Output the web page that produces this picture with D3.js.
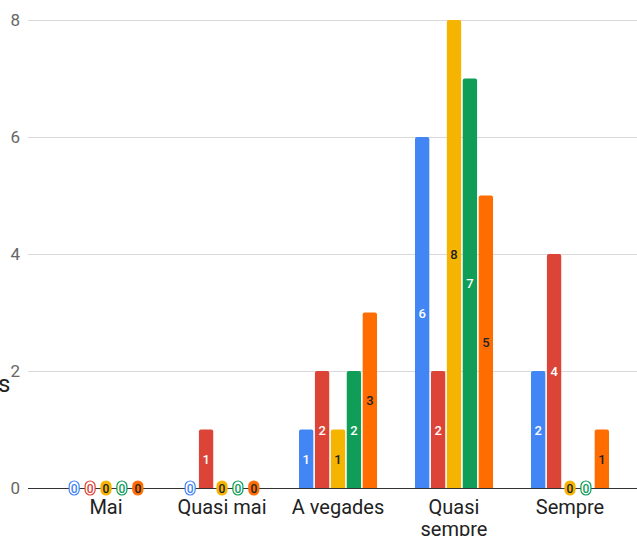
<!DOCTYPE html>
<html>
<head>
<meta charset="utf-8">
<script src="https://cdn.jsdelivr.net/npm/d3@7"></script>
<style>
  body { margin: 0; background: #fff; overflow: hidden; }
  svg { display: block; font-family: Roboto, "Noto Sans", sans-serif; }
</style>
</head>
<body>
<div id="chart"></div>
<script>
var categories = ["Mai", "Quasi mai", "A vegades", "Quasi sempre", "Sempre"];
var seriesNames = ["s1", "s2", "s3", "s4", "s5"];
var blueVals = [0, 0, 1, 6, 2];
var redVals = [0, 1, 2, 2, 4];
var yellowVals = [0, 0, 1, 8, 0];
var greenVals = [0, 0, 2, 7, 0];
var orangeVals = [0, 0, 3, 5, 1];
var yTicks = [0, 2, 4, 6, 8];

var colours = ["#4285f4", "#db4437", "#f4b400", "#0f9d58", "#ff6d01"];
var labelColours = ["#fff", "#fff", "#222", "#fff", "#222"];
var allVals = [blueVals, redVals, yellowVals, greenVals, orangeVals];

var svgWidth = 637, svgHeight = 536;

var svg = d3.select('#chart').append('svg')
  .attr('width', svgWidth)
  .attr('height', svgHeight);

var y = d3.scaleLinear().domain([0, 8]).range([488, 20]);

var x = d3.scaleBand().domain(categories).range([48, 628]);
var inner = d3.scaleBand().domain(seriesNames)
  .range([0, 78]).paddingInner(0.1);

// gridlines
svg.append('g').selectAll('line').data(yTicks.filter(function (d) { return d > 0; }))
  .enter().append('line')
    .attr('x1', 28).attr('x2', svgWidth)
    .attr('y1', function (d) { return y(d) + 0.5; })
    .attr('y2', function (d) { return y(d) + 0.5; })
    .attr('stroke', '#d9d9d9').attr('stroke-width', 1);

// y tick labels
svg.append('g').selectAll('text').data(yTicks)
  .enter().append('text')
    .attr('x', 20).attr('y', function (d) { return y(d) + 6; })
    .attr('text-anchor', 'end')
    .attr('font-size', 17).attr('fill', '#666')
    .text(function (d) { return d; });

// cut-off axis title
svg.append('text').attr('x', -2).attr('y', 392)
  .attr('font-size', 24).attr('fill', '#222').text('s');

// baseline
svg.append('line').attr('x1', 28).attr('x2', svgWidth)
  .attr('y1', y(0) + 0.5).attr('y2', y(0) + 0.5)
  .attr('stroke', '#333').attr('stroke-width', 1);

var rows = [];
allVals.forEach(function (vals, s) {
  vals.forEach(function (v, c) {
    rows.push({ s: s, cat: categories[c], v: v });
  });
});

function bx(d) {
  var groupStart = x(d.cat) + (x.bandwidth() - 78) / 2;
  return groupStart + inner(seriesNames[d.s]);
}

var bw = inner.bandwidth();

function barPath(d) {
  var x0 = bx(d), x1 = x0 + bw, yt = y(d.v), yb = y(0), r = 2;
  return 'M' + x0 + ',' + yb + 'V' + (yt + r) + 'Q' + x0 + ',' + yt + ' ' + (x0 + r) + ',' + yt +
    'H' + (x1 - r) + 'Q' + x1 + ',' + yt + ' ' + x1 + ',' + (yt + r) + 'V' + yb + 'Z';
}

var bars = rows.filter(function (d) { return d.v > 0; });
var zeros = rows.filter(function (d) { return d.v === 0; });

svg.append('g').selectAll('path').data(bars)
  .enter().append('path')
    .attr('d', barPath)
    .attr('fill', function (d) { return colours[d.s]; });

svg.append('g').selectAll('text').data(bars)
  .enter().append('text')
    .attr('x', function (d) { return bx(d) + bw / 2; })
    .attr('y', function (d) { return (y(d.v) + y(0)) / 2 + 5; })
    .attr('text-anchor', 'middle')
    .attr('font-size', 13).attr('font-weight', 500)
    .attr('fill', function (d) { return labelColours[d.s]; })
    .text(function (d) { return d.v; });

// zero value pills
var zg = svg.append('g').selectAll('g').data(zeros)
  .enter().append('g')
    .attr('transform', function (d) { return 'translate(' + (bx(d) + bw / 2) + ',' + y(0) + ')'; });

zg.append('rect')
  .attr('x', -5).attr('y', -7).attr('width', 10).attr('height', 14)
  .attr('rx', 5)
  .attr('fill', function (d) { return labelColours[d.s] === '#fff' ? '#fff' : colours[d.s]; })
  .attr('stroke', function (d) { return colours[d.s]; })
  .attr('stroke-width', 1.2);

zg.append('text')
  .attr('y', 4.5).attr('text-anchor', 'middle')
  .attr('font-size', 12).attr('font-weight', 500)
  .attr('fill', function (d) { return labelColours[d.s] === '#fff' ? colours[d.s] : '#222'; })
  .text('0');

// category labels
var catLines = { "Quasi sempre": ["Quasi", "sempre"] };
svg.append('g').selectAll('text').data(categories)
  .enter().append('text')
    .attr('x', function (d) { return x(d) + x.bandwidth() / 2; })
    .attr('y', 514)
    .attr('text-anchor', 'middle')
    .attr('font-size', 20).attr('fill', '#222')
    .each(function (d) {
      var lines = catLines[d] || [d];
      var t = d3.select(this);
      lines.forEach(function (l, i) {
        t.append('tspan').attr('x', x(d) + x.bandwidth() / 2)
          .attr('dy', i === 0 ? 0 : 22).text(l);
      });
    });
</script>
</body>
</html>
